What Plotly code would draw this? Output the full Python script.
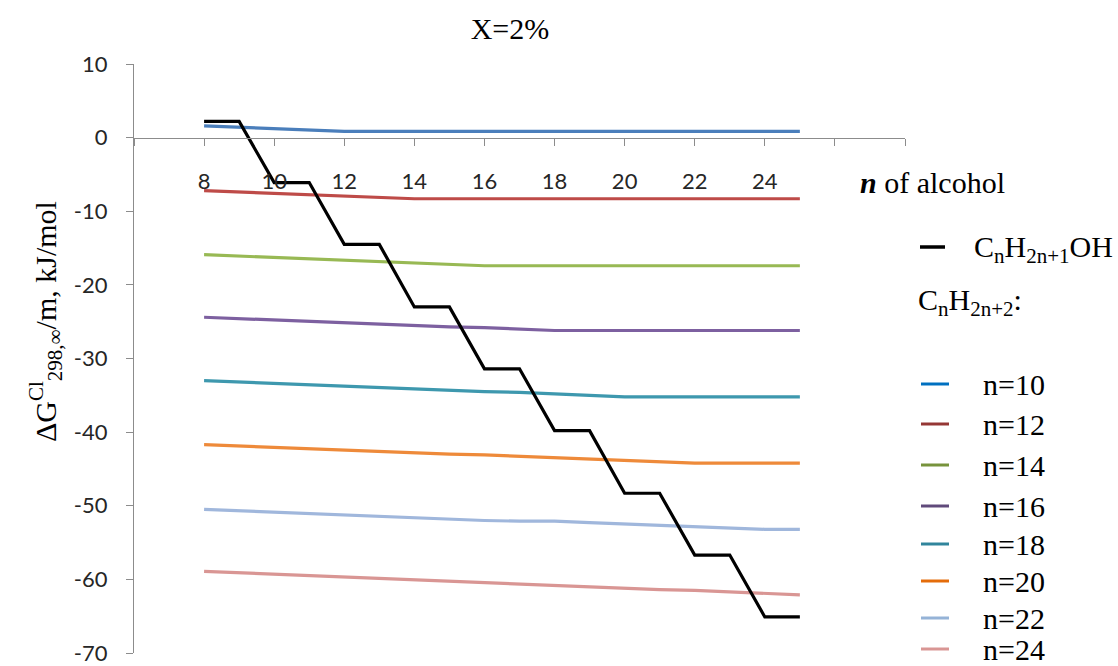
import plotly.graph_objects as go

# Number of carbon atoms in the alcohol chain (x axis)
n_alcohol = list(range(8, 26))

# Alcohol series C_nH_(2n+1)OH: step-like decrease
alcohol_vals = [2.2, 2.2, -6.1, -6.1, -14.5, -14.5, -23.0, -23.0, -31.4, -31.4,
                -39.8, -39.8, -48.3, -48.3, -56.7, -56.7, -65.1, -65.1]

# Alkane series C_nH_(2n+2)
alk_n10 = [1.6, 1.4, 1.2, 1.0, 0.85, 0.85, 0.85, 0.85, 0.85, 0.85,
           0.85, 0.85, 0.85, 0.85, 0.85, 0.85, 0.85, 0.85]
alk_n12 = [-7.2, -7.4, -7.6, -7.8, -8.0, -8.2, -8.3, -8.3, -8.3, -8.3,
           -8.3, -8.3, -8.3, -8.3, -8.3, -8.3, -8.3, -8.3]
alk_n14 = [-15.9, -16.1, -16.3, -16.5, -16.7, -16.9, -17.1, -17.3, -17.4, -17.4,
           -17.4, -17.4, -17.4, -17.4, -17.4, -17.4, -17.4, -17.4]
alk_n16 = [-24.4, -24.6, -24.8, -24.9, -25.1, -25.3, -25.5, -25.7, -25.8, -26.0,
           -26.2, -26.2, -26.2, -26.2, -26.2, -26.2, -26.2, -26.2]
alk_n18 = [-33.0, -33.2, -33.4, -33.6, -33.7, -33.9, -34.1, -34.3, -34.5, -34.6,
           -34.8, -35.0, -35.2, -35.2, -35.2, -35.2, -35.2, -35.2]
alk_n20 = [-41.7, -41.9, -42.1, -42.2, -42.4, -42.6, -42.8, -43.0, -43.1, -43.3,
           -43.5, -43.7, -43.9, -44.0, -44.2, -44.2, -44.2, -44.2]
alk_n22 = [-50.5, -50.7, -50.9, -51.1, -51.3, -51.5, -51.7, -51.8, -52.0, -52.1,
           -52.1, -52.3, -52.5, -52.7, -52.9, -53.1, -53.2, -53.2]
alk_n24 = [-58.9, -59.1, -59.3, -59.5, -59.7, -59.9, -60.0, -60.2, -60.4, -60.6,
           -60.8, -61.0, -61.2, -61.4, -61.5, -61.7, -61.9, -62.1]

alkane_labels = ["n=10", "n=12", "n=14", "n=16", "n=18", "n=20", "n=22", "n=24"]
alkane_series = [alk_n10, alk_n12, alk_n14, alk_n16, alk_n18, alk_n20, alk_n22, alk_n24]
line_colors = ["#4A7EBB", "#BE4B48", "#98B954", "#7D60A0",
               "#3E98AE", "#EE8A3A", "#A0B7DC", "#D99694"]
swatch_colors = ["#0070C0", "#953735", "#77933C", "#604A7B",
                 "#31859C", "#E46C0A", "#95B3D7", "#D99694"]

x_tickvals = list(range(6, 29, 2))
x_ticktext = ["" if v in (6, 26, 28) else str(v) for v in x_tickvals]
y_tickvals = list(range(-70, 11, 10))
y_ticktext = [str(v) for v in y_tickvals]

SERIF = "Liberation Serif, Times New Roman, serif"
SANS = "Lato, Open Sans, sans-serif"
TXT = 30

# plot area in pixels: x 134..905, y 64..653
def px_x(p):
    return (p - 134) / 771


def px_y(p):
    return (653 - p) / 589


fig = go.Figure()

for lbl, vals, col in zip(alkane_labels, alkane_series, line_colors):
    fig.add_trace(go.Scatter(x=n_alcohol, y=vals, mode="lines", name=lbl,
                             line=dict(color=col, width=3.2)))

fig.add_trace(go.Scatter(x=n_alcohol, y=alcohol_vals, mode="lines",
                         name="CnH2n+1OH", line=dict(color="black", width=3.2)))

# Custom legend on the right
shapes = []
annotations = []
shapes.append(dict(type="line", xref="paper", yref="paper",
                   x0=px_x(920), x1=px_x(945), y0=px_y(247), y1=px_y(247),
                   line=dict(color="black", width=3.5)))
annotations.append(dict(xref="paper", yref="paper",
                        x=px_x(972), y=px_y(249),
                        xanchor="left", yanchor="middle", showarrow=False,
                        text="C<sub>n</sub>H<sub>2n+1</sub>OH",
                        font=dict(family=SERIF, size=TXT, color="black")))
annotations.append(dict(xref="paper", yref="paper",
                        x=px_x(916), y=px_y(302),
                        xanchor="left", yanchor="middle", showarrow=False,
                        text="C<sub>n</sub>H<sub>2n+2</sub>:",
                        font=dict(family=SERIF, size=TXT, color="black")))

legend_y = [384, 424, 465, 506, 544, 581, 618, 649]
for lbl, col, yy in zip(alkane_labels, swatch_colors, legend_y):
    shapes.append(dict(type="line", xref="paper", yref="paper",
                       x0=px_x(921), x1=px_x(949), y0=px_y(yy), y1=px_y(yy),
                       line=dict(color=col, width=3)))
    annotations.append(dict(xref="paper", yref="paper",
                            x=px_x(981), y=px_y(yy),
                            xanchor="left", yanchor="middle", showarrow=False,
                            text=lbl,
                            font=dict(family=SERIF, size=TXT, color="black")))

# Axis title annotations
annotations.append(dict(xref="paper", yref="paper",
                        x=px_x(858), y=px_y(182),
                        xanchor="left", yanchor="middle", showarrow=False,
                        text="<b><i>n</i></b> of alcohol",
                        font=dict(family=SERIF, size=TXT, color="black")))
annotations.append(dict(xref="paper", yref="paper",
                        x=px_x(45), y=px_y(322),
                        xanchor="center", yanchor="middle", showarrow=False,
                        textangle=-90,
                        text="ΔG<sup>Cl</sup><sub>298,∞</sub>/m, kJ/mol",
                        font=dict(family=SERIF, size=TXT, color="black")))

fig.update_layout(
    width=1118, height=666,
    margin=dict(l=134, r=213, t=64, b=13),
    paper_bgcolor="white", plot_bgcolor="white",
    showlegend=False,
    title=dict(text="X=2%", x=510 / 1118, xanchor="center",
               y=1 - 28 / 666, yanchor="middle",
               font=dict(family=SERIF, size=TXT, color="black")),
    shapes=shapes,
    annotations=annotations,
    xaxis=dict(range=[6, 28], tickvals=x_tickvals, ticktext=x_ticktext,
               showgrid=False, zeroline=False, showline=True, automargin=False,
               linecolor="#8C8C8C", linewidth=1.3,
               ticks="outside", ticklen=7, tickcolor="#8C8C8C", tickwidth=1.3,
               anchor="free", position=70 / 80, ticklabelstandoff=17,
               tickfont=dict(family=SANS, size=22, color="#262626")),
    yaxis=dict(range=[-70, 10], tickvals=y_tickvals, ticktext=y_ticktext,
               showgrid=False, zeroline=False, automargin=False,
               showline=True, linecolor="#8C8C8C", linewidth=1.3,
               ticks="outside", ticklen=7, tickcolor="#8C8C8C", tickwidth=1.3,
               ticklabelstandoff=14,
               tickfont=dict(family=SANS, size=22, color="#262626")),
)

fig.write_html("out.html")
